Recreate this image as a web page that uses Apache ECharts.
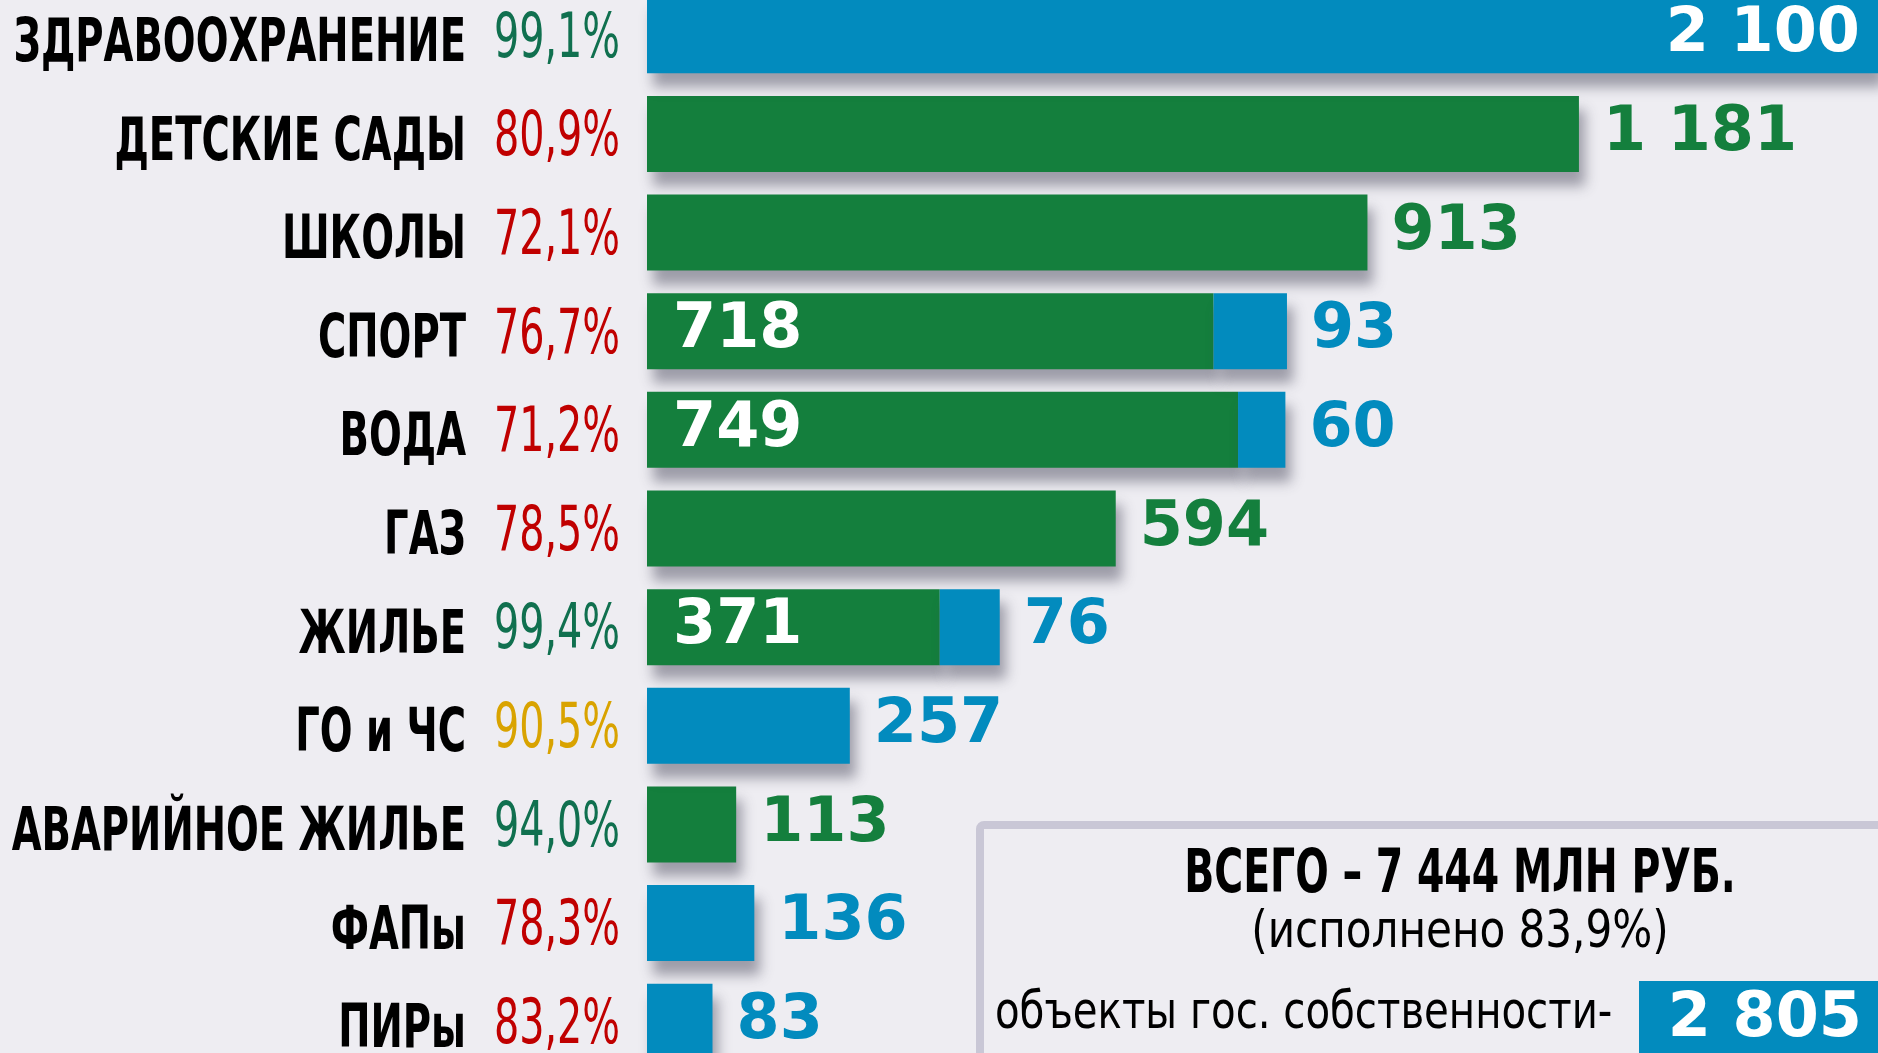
<!DOCTYPE html>
<html>
<head>
<meta charset="utf-8">
<title>Исполнение по отраслям</title>
<script src="https://cdn.jsdelivr.net/npm/echarts@6/dist/echarts.min.js"></script>
<style>
  html,body{margin:0;padding:0;background:#eeedf2;}
  #chart{width:1878px;height:1053px;}
</style>
</head>
<body>
<div id="chart"></div>
<script>
// категории сверху вниз
const categories = ['ЗДРАВООХРАНЕНИЕ', 'ДЕТСКИЕ САДЫ', 'ШКОЛЫ', 'СПОРТ', 'ВОДА', 'ГАЗ', 'ЖИЛЬЕ', 'ГО и ЧС', 'АВАРИЙНОЕ ЖИЛЬЕ', 'ФАПы', 'ПИРы']
// процент исполнения
const donePct = [99.1, 80.9, 72.1, 76.7, 71.2, 78.5, 99.4, 90.5, 94.0, 78.3, 83.2]
// зеленые - муниципальные объекты, синие - объекты гос. собственности (млн руб.)
const municipal = ['-', 1181, 913, 718, 749, 594, 371, '-', 113, '-', '-']
const stateOwned = [2100, '-', '-', 93, 60, '-', 76, 257, '-', 136, 83]
const totalDonePct = 83.9

const GREEN = '#147f3d'
const BLUE = '#028bbe'
const xMax = 1560 // здравоохранение уходит за край, как в оригинале

const num = v => String(v).replace(/\B(?=(\d{3})+(?!\d))/g, ' ')
const pct = v => v.toFixed(1).replace('.', ',') + '%'
const sum = arr => arr.reduce((a, v) => a + (typeof v === 'number' ? v : 0), 0)
const stateTotal = sum(stateOwned)
const total = stateTotal + sum(municipal)

function pctColor(p){
  if(p >= 94) return '#10704f'
  if(p >= 90) return '#d9a300'
  return '#c00000'
}

const COND = "'DejaVu Sans Condensed', 'DejaVu Sans', sans-serif"
const valFont = {fontFamily:'DejaVu Sans', fontWeight:'bold', fontSize:62, formatter:p => num(p.value)}

const greenData = municipal.map((v, i) => {
  if(v === '-') return v
  const stacked = typeof stateOwned[i] === 'number'
  return {
    value: v,
    label: stacked
      ? Object.assign({show:true, position:'insideLeft', distance:26, color:'#fff'}, valFont)
      : Object.assign({show:true, position:'right', distance:24, color:GREEN}, valFont)
  }
})
const blueData = stateOwned.map((v, i) => {
  if(v === '-') return v
  const over = v + (typeof municipal[i] === 'number' ? municipal[i] : 0) > xMax
  return {
    value: v,
    label: over
      ? Object.assign({show:true, position:'insideRight', distance:18, color:'#fff'}, valFont)
      : Object.assign({show:true, position:'right', distance:24, color:BLUE}, valFont)
  }
})

const shadow = {shadowColor:'rgba(60,60,80,0.45)', shadowBlur:12, shadowOffsetX:6, shadowOffsetY:14}

var myChart = echarts.init(document.getElementById('chart'))
myChart.setOption({
  backgroundColor:'#eeedf2',
  animation:false,
  grid:{left:647, right:0, top:-14, height:1085, outerBoundsMode:'none', containLabel:false},
  xAxis:{type:'value', min:0, max:xMax, show:false},
  yAxis:{
    type:'category', data:categories, inverse:true,
    axisLine:{show:false}, axisTick:{show:false}, axisLabel:{show:false}
  },
  series:[
    {
      name:'муниципальные', type:'bar', stack:'all', barWidth:76,
      itemStyle:Object.assign({color:GREEN}, shadow),
      data:greenData
    },
    {
      name:'гос. собственность', type:'bar', stack:'all', barWidth:76,
      itemStyle:Object.assign({color:BLUE}, shadow),
      data:blueData
    }
  ]
})

// подписи строк: узкий шрифт через scaleX, позиция по оси категорий
const rowTexts = []
categories.forEach((name, i) => {
  const y = myChart.convertToPixel({yAxisIndex:0}, i)
  rowTexts.push({type:'text', x:466, y:y + 10, scaleX:0.715,
    style:{text:name, fill:'#000', font:'bold 60px ' + COND, textAlign:'right', textVerticalAlign:'middle'}})
  rowTexts.push({type:'text', x:620, y:y + 5, scaleX:0.70,
    style:{text:pct(donePct[i]), fill:pctColor(donePct[i]), font:'63px ' + COND, textAlign:'right', textVerticalAlign:'middle'}})
})

myChart.setOption({
  graphic:[
    {type:'rect', shape:{x:980, y:825, width:1000, height:400, r:4},
     style:{fill:'#eeedf2', stroke:'#c9c7d6', lineWidth:8}},
    {type:'text', x:1460, y:876, scaleX:0.73,
     style:{text:'ВСЕГО – ' + num(total) + ' МЛН РУБ.', fill:'#000', font:'bold 60px ' + COND, textAlign:'center', textVerticalAlign:'middle'}},
    {type:'text', x:1460, y:933, scaleX:0.9,
     style:{text:'(исполнено ' + pct(totalDonePct) + ')', fill:'#000', font:'52px ' + COND, textAlign:'center', textVerticalAlign:'middle'}},
    {type:'text', x:995, y:1014, scaleX:0.86,
     style:{text:'объекты гос. собственности-', fill:'#000', font:'52px ' + COND, textAlign:'left', textVerticalAlign:'middle'}},
    {type:'rect', shape:{x:1639, y:981, width:260, height:90}, style:{fill:BLUE}},
    {type:'text', x:1862, y:1020,
     style:{text:num(stateTotal), fill:'#fff', font:'bold 62px DejaVu Sans', textAlign:'right', textVerticalAlign:'middle'}}
  ].concat(rowTexts)
})
</script>
</body>
</html>
